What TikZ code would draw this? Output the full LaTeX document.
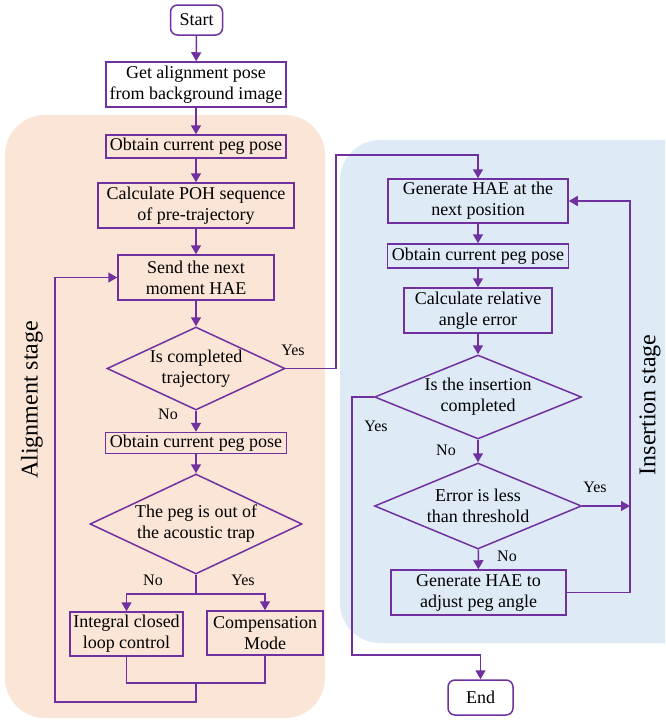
\documentclass[tikz,border=0pt]{standalone}
\usepackage{fontspec}
\setmainfont{Liberation Serif}
\usetikzlibrary{shapes.geometric,arrows.meta}
\definecolor{pur}{HTML}{7030A0}
\definecolor{peach}{HTML}{FBE5D6}
\definecolor{lblue}{HTML}{DEEBF7}
\begin{document}
\begin{tikzpicture}[x=1pt,y=-1pt,
 box/.style={draw=pur,line width=1.5pt,rectangle,inner sep=0pt,align=center,font=\fontsize{18}{21}\selectfont},
 term/.style={box,rounded corners=7pt,fill=white},
 dec/.style={draw=pur,line width=1.5pt,diamond,inner sep=0pt,align=center,font=\fontsize{18}{21}\selectfont},
 conn/.style={draw=pur,line width=1.5pt},
 arr/.style={conn,-{Triangle[length=9pt,width=10pt]}},
 lbl/.style={font=\fontsize{16}{18}\selectfont},
 stage/.style={font=\fontsize{24}{28}\selectfont,rotate=90}
]
\useasboundingbox (0,0) rectangle (665,721);
\begin{scope}
\clip (0,0) rectangle (665,721);
\fill[peach,rounded corners=40pt] (5,115) rectangle (325,718);
\fill[lblue,rounded corners=40pt] (340,140) rectangle (720,643);
\end{scope}

% nodes left
\node[term,minimum width=52pt,minimum height=30pt] (start) at (196.5,20) {Start};
\node[box,fill=white,minimum width=180pt,minimum height=45pt] (getpose) at (196,84.5) {Get alignment pose\\from background image};
\node[box,minimum width=180pt,minimum height=23pt] (obt1) at (196,146.5) {Obtain current peg pose};
\node[box,minimum width=196pt,minimum height=45pt] (poh) at (196,205.5) {Calculate POH sequence\\of pre-trajectory};
\node[box,minimum width=156pt,minimum height=45pt] (send) at (196,277.5) {Send the next\\moment HAE};
\node[dec,aspect=2.14,minimum width=178pt,minimum height=83pt] (d1) at (196,368.5) {Is completed\\trajectory};
\node[box,minimum width=181pt,minimum height=21pt] (obt2) at (196,443) {Obtain current peg pose};
\node[dec,aspect=2.12,minimum width=212pt,minimum height=100pt] (d2) at (196,524) {The peg is out of\\the acoustic trap};
\node[box,minimum width=113pt,minimum height=44pt] (integ) at (126.5,634) {Integral closed\\loop control};
\node[box,minimum width=116pt,minimum height=44pt] (comp) at (265,633) {Compensation\\Mode};

% nodes right
\node[box,minimum width=180pt,minimum height=44pt] (gen) at (478,201) {Generate HAE at the\\next position};
\node[box,minimum width=181pt,minimum height=24pt] (obt3) at (478,256) {Obtain current peg pose};
\node[box,minimum width=148pt,minimum height=45pt] (rel) at (478,310.5) {Calculate relative\\angle error};
\node[dec,aspect=2.46,minimum width=207pt,minimum height=84pt] (d3) at (478,397) {Is the insertion\\completed};
\node[dec,aspect=2.4,minimum width=207pt,minimum height=86pt] (d4) at (478,506) {Error is less\\than threshold};
\node[box,minimum width=175pt,minimum height=45pt] (adj) at (478.5,592.5) {Generate HAE to\\adjust peg angle};
\node[term,minimum width=65pt,minimum height=35pt] (end) at (480.5,697.5) {End};

% stage labels
\node[stage] (alst) at (32,400) {Alignment stage};
\node[stage] (inst) at (650,405) {Insertion stage};

% connector labels
\node[lbl] (y1) at (293,350) {Yes};
\node[lbl] (n1) at (168,414) {No};
\node[lbl] (n2) at (153,580) {No};
\node[lbl] (y2) at (243,580) {Yes};
\node[lbl] (y3) at (376,426) {Yes};
\node[lbl] (n3) at (446,450) {No};
\node[lbl] (y4) at (595,487) {Yes};
\node[lbl] (n4) at (507,556) {No};

% coordinates
\coordinate (split) at (196,594);
\coordinate (join) at (196,683);
\coordinate (loopB) at (196,702);
\coordinate (loopL) at (55,702);
\coordinate (yesA) at (336,368.5);
\coordinate (yesB) at (336,155);
\coordinate (yesC) at (478,155);
\coordinate (rx) at (630,506);
\coordinate (rb) at (630,592.5);
\coordinate (rt) at (630,201);
\coordinate (ex1) at (352,397);
\coordinate (ex2) at (352,655);
\coordinate (ex3) at (480.5,655);

% connectors left
\draw[arr] (start) -- (getpose);
\draw[arr] (getpose) -- (obt1);
\draw[arr] (obt1) -- (poh);
\draw[arr] (poh) -- (send);
\draw[arr] (send) -- (d1);
\draw[arr] (d1) -- (obt2);
\draw[arr] (obt2) -- (d2);
\draw[conn] (d2.south) -- (split);
\draw[arr] (split) -| (integ.north);
\draw[arr] (split) -| (comp.north);
\draw[conn] (integ.south) |- (join) -| (comp.south);
\draw[arr] (join) -- (loopB) -- (loopL) |- (send.west);
\draw[arr] (d1.east) -- (yesA) -- (yesB) -- (yesC) -- (gen.north);

% connectors right
\draw[arr] (gen) -- (obt3);
\draw[arr] (obt3) -- (rel);
\draw[arr] (rel) -- (d3);
\draw[arr] (d3) -- (d4);
\draw[arr] (d4) -- (adj);
\draw[arr] (d4.east) -- (rx);
\draw[arr] (adj.east) -- (rb) -- (rt) -- (gen.east);
\draw[arr] (d3.west) -- (ex1) -- (ex2) -- (ex3) -- (end.north);
\end{tikzpicture}
\end{document}
